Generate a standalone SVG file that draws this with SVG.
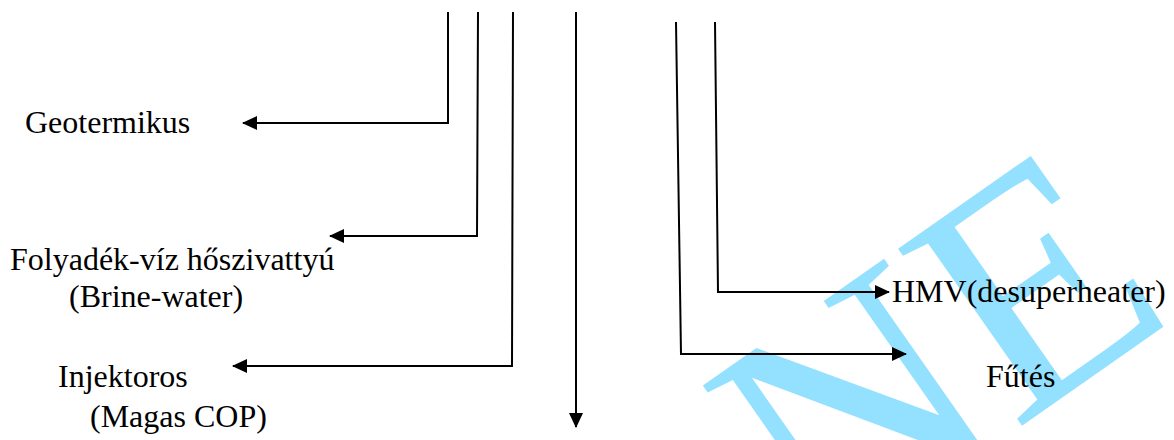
<svg xmlns="http://www.w3.org/2000/svg" width="1174" height="440" viewBox="0 0 1174 440">
<style>
.t{font-family:"Liberation Serif","Times New Roman",serif;font-size:32px;fill:#000}
.c{fill:none;stroke:#000;stroke-width:2}
.wm{font-family:"Liberation Serif","Times New Roman",serif;font-size:330px;fill:#93E0FF}
</style>
<defs>
<marker id="a" markerWidth="15" markerHeight="14" refX="14" refY="7" orient="auto" markerUnits="userSpaceOnUse"><path d="M0,0 L15,7 L0,14 Z" fill="#000"/></marker>
</defs>
<rect width="1174" height="440" fill="#fff"/>
<g id="watermark"><text class="wm" transform="translate(819,568) rotate(-35)">NE</text></g>
<g id="connectors">
<polyline class="c" points="448,12 448,123 243,123" marker-end="url(#a)"/>
<polyline class="c" points="478,12 477,236 330,236" marker-end="url(#a)"/>
<polyline class="c" points="513,12 512,366 233,366" marker-end="url(#a)"/>
<polyline class="c" points="576,12 576,427" marker-end="url(#a)"/>
<polyline class="c" points="715,22 718,292 889,292" marker-end="url(#a)"/>
<polyline class="c" points="676,22 681,354 906,354" marker-end="url(#a)"/>
</g>
<g id="geotermikus"><text class="t" x="25" y="133">Geotermikus</text></g>
<g id="folyadek"><text class="t" x="10" y="270">Folyadék-víz hőszivattyú</text><text class="t" x="69" y="307">(Brine-water)</text></g>
<g id="injektoros"><text class="t" x="58" y="387">Injektoros</text><text class="t" x="90" y="427">(Magas COP)</text></g>
<g id="hmv"><text class="t" x="892" y="302">HMV(desuperheater)</text></g>
<g id="futes"><text class="t" x="986" y="387">Fűtés</text></g>
</svg>
